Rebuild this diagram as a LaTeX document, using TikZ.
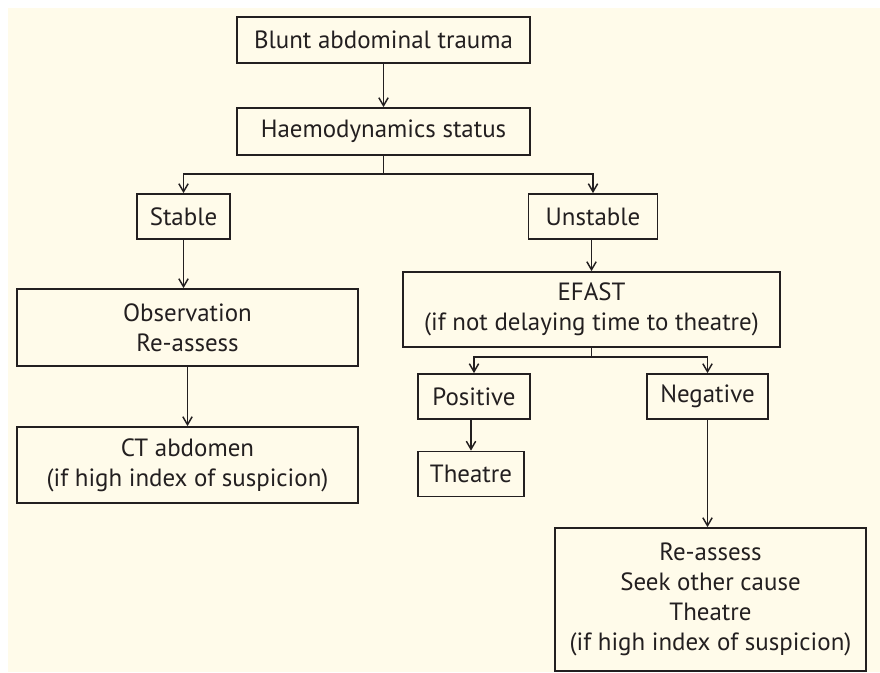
\documentclass[tikz,border=0pt]{standalone}
\usepackage{fontspec}
\setmainfont{PT Sans}
\usetikzlibrary{arrows.meta}
\definecolor{cream}{RGB}{255,251,234}
\definecolor{ink}{RGB}{35,31,32}
\begin{document}
\begin{tikzpicture}[x=0.75pt,y=-0.75pt]
\tikzset{every node/.style={inner sep=0,text=ink,align=center,font=\fontsize{18.7}{22.5}\selectfont},
    box/.style={draw=ink,line width=1.3pt},
    arr/.style={-{Straight Barb[length=6pt,width=7pt]},draw=ink,line width=1.1pt}}
    \useasboundingbox (0,0) rectangle (880,672);
    \fill[cream] (8,8) rectangle (880,672);

    \node[box,minimum width=219.75pt,minimum height=34.5pt] (trauma) at (383.5,40) {Blunt abdominal trauma};
    \node[box,minimum width=219.75pt,minimum height=35.25pt] (status) at (383.5,131.5) {Haemodynamics status};
    \coordinate (split1) at (383.5,174);
    \node[box,minimum width=69.75pt,minimum height=33.75pt] (stable) at (183.5,216.5) {Stable};
    \node[box,minimum width=96.75pt,minimum height=33.75pt] (unstable) at (593,216.5) {Unstable};

    \node[box,minimum width=255.75pt,minimum height=57.75pt] (observe) at (187.5,327.5) {Observation\\Re-assess};
    \node[box,minimum width=255.75pt,minimum height=57pt] (ct) at (187.5,465) {CT abdomen\\(if high index of suspicion)};

    \node[box,minimum width=282.75pt,minimum height=56.25pt] (efast) at (591.5,309.5) {EFAST\\(if not delaying time to theatre)};
    \coordinate (split2) at (591.5,357);
    \node[box,minimum width=84pt,minimum height=33.75pt] (positive) at (474,396.5) {Positive};
    \node[box,minimum width=90.75pt,minimum height=33.75pt] (negative) at (707.5,396.5) {Negative};
    \node[box,minimum width=79.5pt,minimum height=33.75pt] (theatre) at (471,474) {Theatre};
    \node[box,minimum width=233.25pt,minimum height=107.25pt] (reassess) at (710.5,599.5) {Re-assess\\Seek other cause\\Theatre\\(if high index of suspicion)};

    \draw[arr] (trauma) -- (status);
    \draw[draw=ink,line width=1.1pt] (status) -- (split1);
    \draw[arr] (split1) -| (stable);
    \draw[arr] (split1) -| (unstable);
    \draw[arr] (stable) -- (stable |- observe.north);
    \draw[arr] (observe) -- (ct);
    \draw[arr] (unstable.south -| efast.north) -- (efast);
    \draw[draw=ink,line width=1.1pt] (efast) -- (split2);
    \draw[arr] (split2) -| (positive);
    \draw[arr] (split2) -| (negative);
    \draw[arr] (theatre.north |- positive.south) -- (theatre);
    \draw[arr] (negative) -- (negative |- reassess.north);
\end{tikzpicture}
\end{document}
